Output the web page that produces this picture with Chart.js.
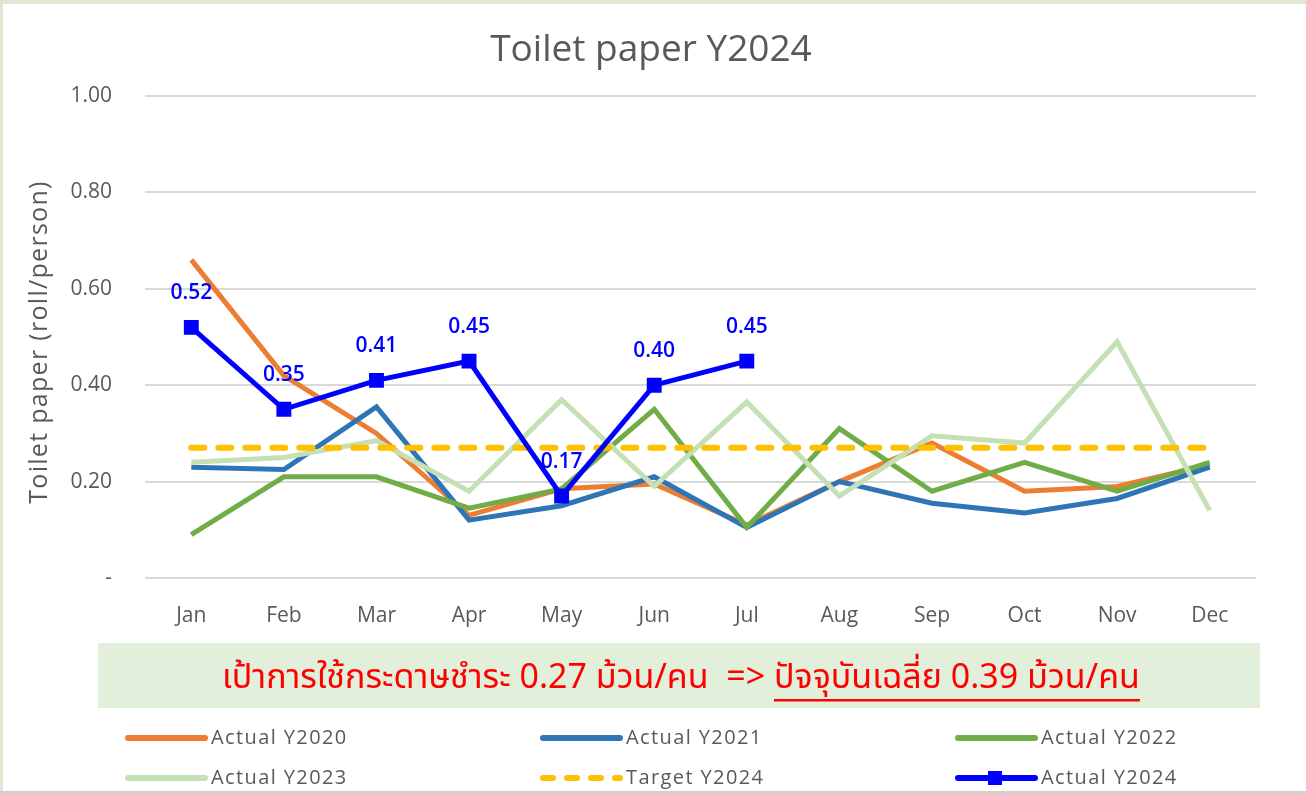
<!DOCTYPE html>
<html>
<head>
<meta charset="utf-8">
<script src="https://cdn.jsdelivr.net/npm/chart.js@4"></script>
<style>
  html, body { margin: 0; padding: 0; background: #fff; }
  #wrap { width: 1306px; height: 794px; position: relative; }
</style>
</head>
<body>
<div id="wrap"><canvas id="paper"></canvas></div>
<script>
var MONTHS = ['Jan', 'Feb', 'Mar', 'Apr', 'May', 'Jun', 'Jul', 'Aug', 'Sep', 'Oct', 'Nov', 'Dec'];
var Y2020 = [0.66, 0.42, 0.30, 0.13, 0.185, 0.195, 0.11, 0.20, 0.28, 0.18, 0.19, 0.235];
var Y2021 = [0.23, 0.225, 0.355, 0.12, 0.15, 0.21, 0.105, 0.20, 0.155, 0.135, 0.165, 0.23];
var Y2022 = [0.09, 0.21, 0.21, 0.145, 0.185, 0.35, 0.105, 0.31, 0.18, 0.24, 0.18, 0.24];
var Y2023 = [0.24, 0.25, 0.285, 0.18, 0.37, 0.19, 0.365, 0.17, 0.295, 0.28, 0.49, 0.14];
var TARGET = [0.27, 0.27, 0.27, 0.27, 0.27, 0.27, 0.27, 0.27, 0.27, 0.27, 0.27, 0.27];
var Y2024 = [0.52, 0.35, 0.41, 0.45, 0.17, 0.40, 0.45, null, null, null, null, null];
var Y_TICKS = [0, 0.2, 0.4, 0.6, 0.8, 1.0];

var TITLE = 'Toilet paper Y2024';
var Y_TITLE = 'Toilet paper (roll/person)';
var NOTE_A = 'เป้าการใช้กระดาษชำระ 0.27 ม้วน/คน  => ';
var NOTE_B = 'ปัจจุบันเฉลี่ย 0.39 ม้วน/คน';

var GREY = '#595959';
var FONT = '"Open Sans", "Noto Sans", sans-serif';

function line(label, data, color, order) {
    return {
        label: label,
        data: data,
        borderColor: color,
        backgroundColor: color,
        borderWidth: 5,
        pointRadius: 0,
        pointHoverRadius: 0,
        tension: 0,
        order: order
    };
}

var ds2024 = line('Actual Y2024', Y2024, '#0000ff', 1);
ds2024.pointStyle = 'rect';
ds2024.pointRadius = 7;
ds2024.valueLabels = true;

var dsTarget = line('Target Y2024', TARGET, '#ffc000', 2);
dsTarget.borderDash = [13, 14];
dsTarget.borderCapStyle = 'round';
dsTarget.borderWidth = 6;

var chartData = {
    labels: MONTHS,
    datasets: [
        line('Actual Y2020', Y2020, '#ed7d31', 6),
        line('Actual Y2021', Y2021, '#2e75b6', 5),
        line('Actual Y2022', Y2022, '#70ad47', 4),
        line('Actual Y2023', Y2023, '#c5e0b4', 3),
        dsTarget,
        ds2024
    ]
};

// frame, titles, note box and the three-column legend
var extras = {
    id: 'extras',
    beforeDraw: function(chart) {
        var c = chart.ctx;
        c.save();
        c.fillStyle = '#dfe8d3';
        c.fillRect(0, 0, chart.width, chart.height);
        c.fillStyle = '#ffffff';
        c.fillRect(3, 4, chart.width - 3, chart.height - 7);
        c.fillStyle = '#d0d0cc';
        c.fillRect(0, chart.height - 3, chart.width, 3);

        c.fillStyle = GREY;
        c.textAlign = 'center';
        c.textBaseline = 'middle';
        c.font = '37px ' + FONT;
        c.fillText(TITLE, 651, 50);

        c.translate(40, 342);
        c.rotate(-Math.PI / 2);
        c.font = '25px ' + FONT;
        c.letterSpacing = '1.3px';
        c.fillText(Y_TITLE, 0, 0);
        c.restore();
    },
    afterDraw: function(chart) {
        var c = chart.ctx;
        c.save();
        // note box
        c.fillStyle = '#e2efda';
        c.fillRect(98, 643, 1162, 65);
        c.font = '34px "Noto Sans Thai", "Noto Sans", sans-serif';
        c.fillStyle = '#ff0000';
        c.textBaseline = 'middle';
        var wa = c.measureText(NOTE_A).width;
        var wb = c.measureText(NOTE_B).width;
        var x0 = 681 - (wa + wb) / 2;
        c.fillText(NOTE_A, x0, 681);
        c.fillText(NOTE_B, x0 + wa, 681);
        c.fillRect(x0 + wa, 699, wb, 2.5);

        // legend
        var cols = [125, 540, 955];
        var rows = [738, 778];
        c.font = '20px ' + FONT;
        c.letterSpacing = '1.4px';
        chart.data.datasets.forEach(function(ds, i) {
            var x = cols[i % 3], y = rows[Math.floor(i / 3)];
            c.strokeStyle = ds.borderColor;
            c.lineWidth = 6;
            c.lineCap = 'round';
            c.setLineDash(ds.borderDash ? [10, 14] : []);
            c.beginPath();
            c.moveTo(x + 3, y);
            c.lineTo(x + 80, y);
            c.stroke();
            c.setLineDash([]);
            if (ds.pointStyle === 'rect') {
                c.fillStyle = ds.borderColor;
                c.fillRect(x + 33, y - 7, 14, 14);
            }
            c.fillStyle = GREY;
            c.textBaseline = 'middle';
            c.fillText(ds.label, x + 86, y);
        });
        c.restore();
    },
    afterDatasetsDraw: function(chart) {
        var c = chart.ctx;
        c.save();
        c.font = '600 21px ' + FONT;
        c.fillStyle = '#0000ff';
        c.textAlign = 'center';
        c.textBaseline = 'middle';
        chart.data.datasets.forEach(function(ds, i) {
            if (!ds.valueLabels) return;
            chart.getDatasetMeta(i).data.forEach(function(pt, j) {
                if (ds.data[j] == null) return;
                c.fillText(ds.data[j].toFixed(2), pt.x, pt.y - 34);
            });
        });
        c.restore();
    }
};

window.onload = function() {
    var ctx = document.getElementById('paper').getContext('2d');
    window.myLine = new Chart(ctx, {
        type: 'line',
        data: chartData,
        plugins: [extras],
        options: {
            responsive: true,
            maintainAspectRatio: false,
            animation: false,
            layout: { padding: { top: 96, right: 50, bottom: 146, left: 0 } },
            plugins: {
                legend: { display: false },
                tooltip: { enabled: false },
                title: { display: false }
            },
            scales: {
                x: {
                    offset: true,
                    grid: { display: false },
                    border: { display: false },
                    ticks: { color: GREY, padding: 17, font: { family: FONT, size: 21 } },
                    afterFit: function(s) { s.height = 70; }
                },
                y: {
                    min: 0,
                    max: 1,
                    afterBuildTicks: function(s) {
                        s.ticks = Y_TICKS.map(function(v) { return { value: v }; });
                    },
                    grid: { color: '#d9d9d9', lineWidth: 2, drawTicks: false },
                    border: { display: false },
                    ticks: {
                        color: GREY,
                        padding: 33,
                        font: { family: FONT, size: 21 },
                        callback: function(v) { return v === 0 ? '-' : v.toFixed(2); }
                    },
                    afterFit: function(s) { s.width = 145; }
                }
            }
        }
    });
};
</script>
</body>
</html>
